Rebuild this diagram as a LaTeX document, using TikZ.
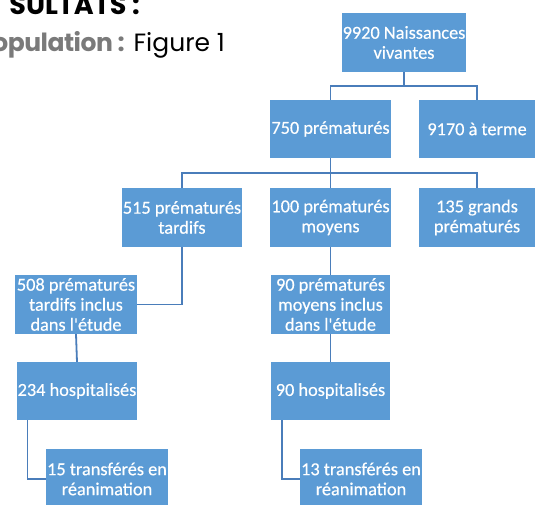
\documentclass[tikz,border=0pt]{standalone}
\usepackage{fontspec}
\setmainfont{Carlito}
\newfontfamily\boxfont[FakeBold=0.4]{Carlito}
\newfontfamily\titlefont{Poppins}
\newfontfamily\titleboldfont[LetterSpace=-2]{Poppins Bold}
\usetikzlibrary{calc}
\definecolor{boxblue}{HTML}{5B9BD5}
\definecolor{linkblue}{HTML}{4A7DBA}
\definecolor{headgray}{HTML}{7A7A7A}
\tikzset{
  box/.style={fill=boxblue, draw=none, text=white, align=center, inner sep=1pt,
    font=\boxfont\fontsize{18.3}{20}\selectfont},
  link/.style={draw=linkblue, line width=1.8pt},
}
\begin{document}
\begin{tikzpicture}[x=1pt,y=-1pt]
\useasboundingbox (0,0) rectangle (535,505);
\fill[white] (0,0) rectangle (535,505);
% header text
\node[anchor=base east, inner sep=0, font=\titlefont\bfseries\fontsize{27}{30}\selectfont] (title) at (140,15) {SULTATS :};
\node[anchor=base east, inner sep=0, font=\titlefont\fontsize{25}{28}\selectfont] (pop) at (225,52) {{\color{headgray}\titleboldfont opulation :} Figure 1};
% boxes
\node[box, minimum width=122pt, minimum height=59pt] (root) at (404,42.5) {9920 Naissances\\vivantes};
\node[box, minimum width=119pt, minimum height=58pt] (n750) at (330.5,129) {750 prématurés};
\node[box, minimum width=116pt, minimum height=58pt] (n9170) at (477,129) {9170 à terme};
\node[box, minimum width=120pt, minimum height=59pt] (n515) at (182,217.5) {515 prématurés\\tardifs};
\node[box, minimum width=119pt, minimum height=59pt] (n100) at (330.5,217.5) {100 prématurés\\moyens};
\node[box, minimum width=116pt, minimum height=59pt] (n135) at (477,217.5) {135 grands\\prématurés};
\node[box, minimum width=122pt, minimum height=59pt] (n508) at (76,304.5) {508 prématurés\\tardifs inclus\\dans l'étude};
\node[box, minimum width=119pt, minimum height=59pt] (n90m) at (330.5,304.5) {90 prématurés\\moyens inclus\\dans l'étude};
\node[box, minimum width=120pt, minimum height=58pt] (h234) at (77,391) {234 hospitalisés};
\node[box, minimum width=119pt, minimum height=58pt] (h90) at (330.5,391) {90 hospitalisés};
\node[box, minimum width=120pt, minimum height=60pt] (t15) at (107,479) {15 transférés en\\réanimation};
\node[box, minimum width=118pt, minimum height=60pt] (t13) at (361,479) {13 transférés en\\réanimation};
% connectors
\coordinate (j1) at ($(root.south)+(0,14)$);
\draw[link] (root.south) -- (j1) -| (n750.north);
\draw[link] (j1) -| (n9170.north);
\coordinate (j2) at ($(n750.south)+(0,15)$);
\draw[link] (n750.south) -- (j2) -| (n515.north);
\draw[link] (j2) -| (n135.north);
\draw[link] (j2) -- (n100.north);
\draw[link] (n515.south) |- (n508.east);
\draw[link] (n100.south) -- (n90m.north);
\draw[link] (n508.south) -- (h234.north);
\draw[link] (n90m.south) -- (h90.north);
\draw[link] ($(h234.south west)+(11,0)$) |- (t15.west);
\draw[link] ($(h90.south west)+(11,0)$) |- (t13.west);
\end{tikzpicture}
\end{document}
